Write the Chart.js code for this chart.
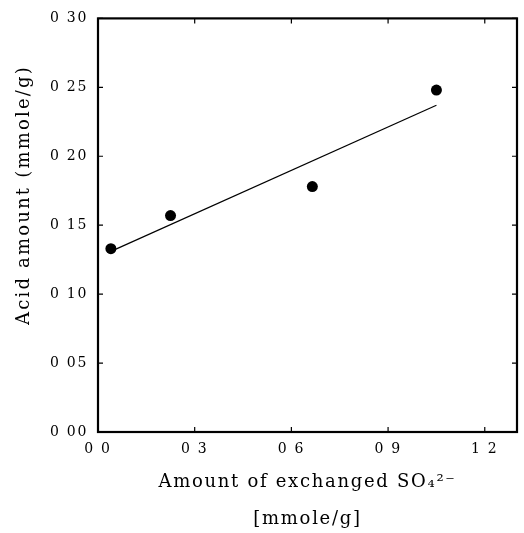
<!DOCTYPE html>
<html>
<head>
<meta charset="utf-8">
<script src="https://cdn.jsdelivr.net/npm/chart.js@4"></script>
<style>
  html, body { margin: 0; padding: 0; background: #fff; }
  #chart { display: block; }
</style>
</head>
<body>
<canvas id="chart" width="524" height="533"></canvas>
<script>
// values
const xValues = [0.04, 0.225, 0.665, 1.05];
const yValues = [0.133, 0.157, 0.178, 0.248];
const fitX = [0.04, 1.05];
const fitY = [0.131, 0.237];

const xTickValues = [0, 0.3, 0.6, 0.9, 1.2];
const xTickLabels = ['0 0', '0 3', '0 6', '0 9', '1 2'];
const yTickValues = [0, 0.05, 0.10, 0.15, 0.20, 0.25, 0.30];
const yTickLabels = ['0 00', '0 05', '0 10', '0 15', '0 20', '0 25', '0 30'];

const xTitle = ['Amount of exchanged SO₄²⁻', '[mmole/g]'];
const yTitle = 'Acid amount (mmole/g)';

const FONT = '"DejaVu Serif", "Liberation Serif", serif';

// wide tracking like the scanned figure
const spacingPlugin = {
    id: 'spacing',
    beforeDraw(chart) { chart.ctx.letterSpacing = '1.7px'; }
};

// box frame + inward tick marks on all four sides
const framePlugin = {
    id: 'frame',
    afterDraw(chart) {
        const { ctx, chartArea: a, scales } = chart;
        const len = 5;
        ctx.save();
        ctx.strokeStyle = '#000';
        ctx.lineWidth = 1.2;
        ctx.beginPath();
        xTickValues.forEach(v => {
            const px = scales.x.getPixelForValue(v);
            ctx.moveTo(px, a.bottom); ctx.lineTo(px, a.bottom - len);
            ctx.moveTo(px, a.top); ctx.lineTo(px, a.top + len);
        });
        yTickValues.forEach(v => {
            const py = scales.y.getPixelForValue(v);
            ctx.moveTo(a.left, py); ctx.lineTo(a.left + len, py);
            ctx.moveTo(a.right, py); ctx.lineTo(a.right - len, py);
        });
        ctx.stroke();
        ctx.lineWidth = 2.2;
        ctx.strokeRect(a.left, a.top, a.right - a.left, a.bottom - a.top);
        ctx.restore();
    }
};

// y title sits a bit above centre in the original
const yTitlePlugin = {
    id: 'yTitle',
    afterDraw(chart) {
        const ctx = chart.ctx;
        ctx.save();
        ctx.letterSpacing = '2.2px';
        ctx.translate(24, 195);
        ctx.rotate(-Math.PI / 2);
        ctx.font = '18px ' + FONT;
        ctx.fillStyle = '#000';
        ctx.textAlign = 'center';
        ctx.textBaseline = 'middle';
        ctx.fillText(yTitle, 0, 0);
        ctx.restore();
    }
};

new Chart(document.getElementById('chart').getContext('2d'), {
    type: 'scatter',
    data: {
        datasets: [{
            label: 'measured',
            data: xValues.map((x, i) => ({ x: x, y: yValues[i] })),
            showLine: false,
            pointRadius: 5.5,
            pointBackgroundColor: '#000',
            pointBorderWidth: 0
        }, {
            label: 'fit',
            data: fitX.map((x, i) => ({ x: x, y: fitY[i] })),
            showLine: true,
            borderColor: '#000',
            borderWidth: 1.2,
            pointRadius: 0
        }]
    },
    options: {
        responsive: false,
        animation: false,
        devicePixelRatio: 1,
        layout: { padding: { top: 11, right: 7, bottom: 0, left: 0 } },
        plugins: {
            legend: { display: false },
            tooltip: { enabled: false }
        },
        scales: {
            x: {
                type: 'linear',
                min: 0,
                max: 1.3,
                afterBuildTicks: s => { s.ticks = xTickValues.map(v => ({ value: v })); },
                afterFit: s => { s.height = 101; },
                grid: { display: false, drawTicks: false },
                border: { display: false },
                ticks: {
                    callback: (v, i) => xTickLabels[i],
                    color: '#000',
                    padding: 9,
                    maxRotation: 0,
                    autoSkip: false,
                    font: { family: FONT, size: 14 }
                },
                title: {
                    display: true,
                    text: xTitle,
                    color: '#000',
                    font: { family: FONT, size: 18, lineHeight: 37 / 18 },
                    padding: { top: 0, bottom: -5 }
                }
            },
            y: {
                type: 'linear',
                min: 0,
                max: 0.3,
                afterBuildTicks: s => { s.ticks = yTickValues.map(v => ({ value: v })); },
                afterFit: s => { s.width = 98; },
                grid: { display: false, drawTicks: false },
                border: { display: false },
                ticks: {
                    callback: (v, i) => yTickLabels[i],
                    color: '#000',
                    padding: 10,
                    autoSkip: false,
                    font: { family: FONT, size: 14 }
                }
            }
        }
    },
    plugins: [spacingPlugin, framePlugin, yTitlePlugin]
});
</script>
</body>
</html>
